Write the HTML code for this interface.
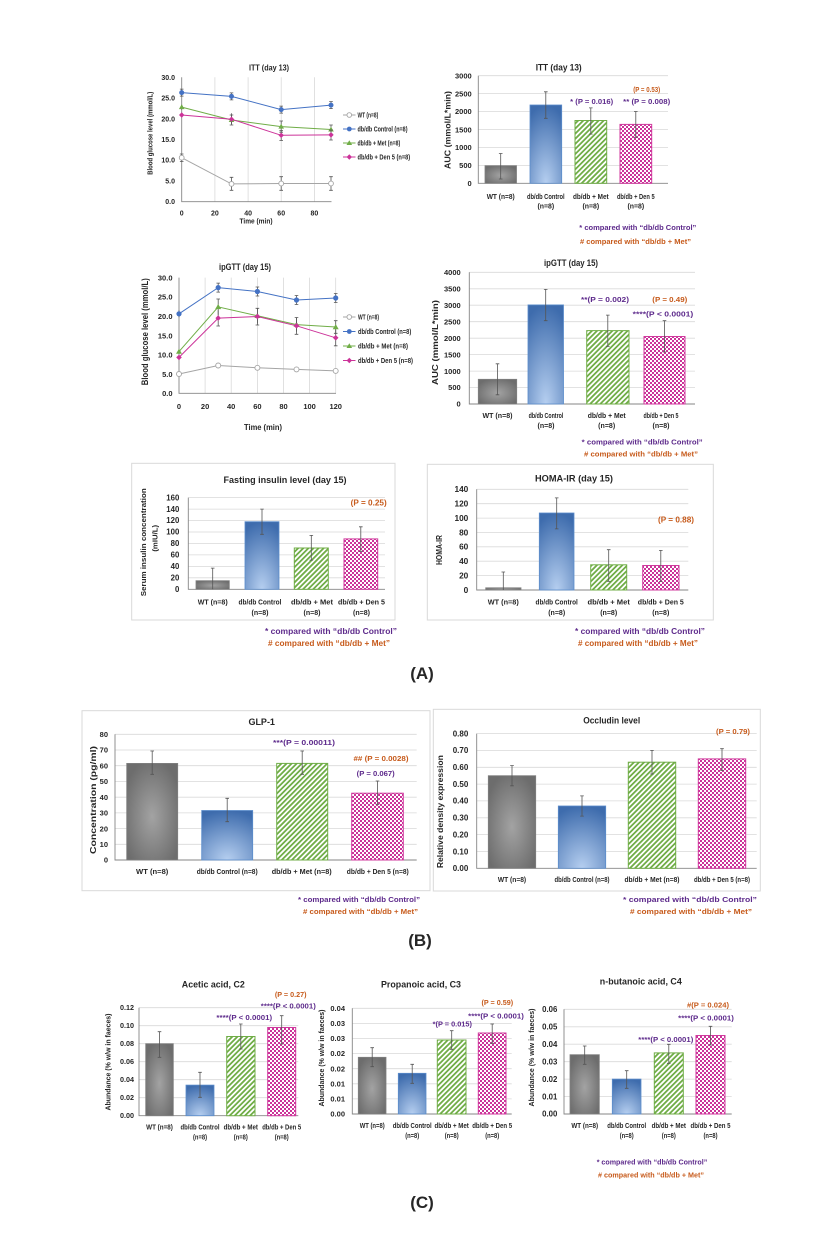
<!DOCTYPE html>
<html><head><meta charset="utf-8"><title>Figure</title>
<style>
html,body{margin:0;padding:0;background:#fff}
svg{display:block}
text{font-family:"Liberation Sans",Arial,sans-serif;font-weight:bold;fill:#262626}
.e{text-anchor:end}
.m{text-anchor:middle}
text.p{fill:#5e2b8c}
text.o{fill:#c75b1c}
.g{stroke:#d9d9d9;stroke-width:.8;fill:none}
.ax{stroke:#868686;stroke-width:.9;fill:none}
.eb{stroke:#555;stroke-width:.8;fill:none}
.bw{fill:url(#gg);stroke:#808080;stroke-width:.8}
.bc{fill:url(#gb);stroke:#5a8ccb;stroke-width:.8}
.bm{fill:url(#st);stroke:#70ad47;stroke-width:1}
.bd{fill:url(#ck);stroke:#d03a9e;stroke-width:1}
.box{fill:none;stroke:#d9d9d9;stroke-width:1}
</style></head><body>
<svg width="838" height="1238" viewBox="0 0 838 1238" xmlns="http://www.w3.org/2000/svg">
<defs>
<pattern id="st" patternUnits="userSpaceOnUse" width="3.6" height="3.6" patternTransform="rotate(45)"><rect width="3.6" height="3.6" fill="#fff"/><rect width="1.8" height="3.6" fill="#70ad47"/></pattern>
<pattern id="ck" patternUnits="userSpaceOnUse" width="4" height="4"><rect width="4" height="4" fill="#fff"/><rect width="2" height="2" fill="#cc3399"/><rect x="2" y="2" width="2" height="2" fill="#cc3399"/></pattern>
<radialGradient id="gg" cx="0.5" cy="0.55" r="0.6"><stop offset="0" stop-color="#a3a3a3"/><stop offset="1" stop-color="#6d6d6d"/></radialGradient>
<radialGradient id="gb" cx="0.5" cy="1" r="1"><stop offset="0" stop-color="#b6cff0"/><stop offset="1" stop-color="#3e6cad"/></radialGradient>
</defs>
<rect width="838" height="1238" fill="#fff"/>

<!-- ===== ITT line chart ===== -->
<path class="g" d="M214.9 77.3V201.7M248.1 77.3V201.7M281.2 77.3V201.7M314.4 77.3V201.7"/>
<path class="ax" d="M181.7 77.3V201.7H331.5"/>
<g class="e" font-size="7">
<text x="175" y="204.2">0.0</text><text x="175" y="183.5">5.0</text><text x="175" y="162.7">10.0</text><text x="175" y="142">15.0</text><text x="175" y="121.3">20.0</text><text x="175" y="100.6">25.0</text><text x="175" y="79.8">30.0</text>
</g>
<g class="m" font-size="7">
<text x="181.7" y="215.5">0</text><text x="214.9" y="215.5">20</text><text x="248.1" y="215.5">40</text><text x="281.2" y="215.5">60</text><text x="314.4" y="215.5">80</text>
<text x="256" y="223.5" textLength="33" lengthAdjust="spacingAndGlyphs">Time (min)</text>
<text x="269" y="70.5" font-size="8" textLength="40" lengthAdjust="spacingAndGlyphs">ITT (day 13)</text>
</g>
<text class="m" font-size="7" transform="translate(152.5,133.3) rotate(-90)" textLength="83" lengthAdjust="spacingAndGlyphs">Blood glucose level (mmol/L)</text>
<!-- WT -->
<polyline points="181.7,157.7 231.5,183.9 281.2,183.5 331,183.5" fill="none" stroke="#a5a5a5" stroke-width="1"/>
<path class="eb" d="M181.7 154V161.5M179.9 154H183.5M179.9 161.5H183.5M231.5 177.3V190.3M229.7 177.3H233.3M229.7 190.3H233.3M281.2 176.7V190.3M279.4 176.7H283M279.4 190.3H283M331 176.7V190.3M329.2 176.7H332.8M329.2 190.3H332.8"/>
<g fill="#fff" stroke="#a5a5a5" stroke-width=".9"><circle cx="181.7" cy="157.7" r="2.4"/><circle cx="231.5" cy="183.9" r="2.4"/><circle cx="281.2" cy="183.5" r="2.4"/><circle cx="331" cy="183.5" r="2.4"/></g>
<!-- Control -->
<polyline points="181.7,92.6 231.5,96.4 281.2,109.6 331,105.1" fill="none" stroke="#4472c4" stroke-width="1"/>
<path class="eb" d="M181.7 89.1V96.1M179.9 89.1H183.5M179.9 96.1H183.5M231.5 92.9V99.9M229.7 92.9H233.3M229.7 99.9H233.3M281.2 106.1V113.1M279.4 106.1H283M279.4 113.1H283M331 101.6V108.6M329.2 101.6H332.8M329.2 108.6H332.8"/>
<g fill="#4472c4"><circle cx="181.7" cy="92.6" r="2.5"/><circle cx="231.5" cy="96.4" r="2.5"/><circle cx="281.2" cy="109.6" r="2.5"/><circle cx="331" cy="105.1" r="2.5"/></g>
<!-- Met -->
<polyline points="181.7,107.1 231.5,120 281.2,126.6 331,129.5" fill="none" stroke="#70ad47" stroke-width="1"/>
<path class="eb" d="M181.7 104.6V109.6M231.5 115V125M229.7 115H233.3M229.7 125H233.3M281.2 121V132.2M279.4 121H283M279.4 132.2H283M331 125V134M329.2 125H332.8M329.2 134H332.8"/>
<g fill="#70ad47"><path d="M181.7 104.3L184.5 109.1L178.9 109.1Z"/><path d="M231.5 117.2L234.3 122L228.7 122Z"/><path d="M281.2 123.8L284 128.6L278.4 128.6Z"/><path d="M331 126.7L333.8 131.5L328.2 131.5Z"/></g>
<!-- Den -->
<polyline points="181.7,115 231.5,119.2 281.2,135.3 331,134.9" fill="none" stroke="#cc3399" stroke-width="1"/>
<path class="eb" d="M181.7 113V117M231.5 113.3V124M281.2 130.5V140.5M279.4 130.5H283M279.4 140.5H283M331 130V140M329.2 130H332.8M329.2 140H332.8"/>
<g fill="#cc3399"><path d="M181.7 112.3L184.4 115L181.7 117.7L179 115Z"/><path d="M231.5 116.5L234.2 119.2L231.5 121.9L228.8 119.2Z"/><path d="M281.2 132.6L283.9 135.3L281.2 138L278.5 135.3Z"/><path d="M331 132.2L333.7 134.9L331 137.6L328.3 134.9Z"/></g>
<!-- legend -->
<path d="M343 115H355.5" stroke="#a5a5a5"/><circle cx="349.3" cy="115" r="2.3" fill="#fff" stroke="#a5a5a5" stroke-width=".9"/>
<path d="M343 129H355.5" stroke="#4472c4"/><circle cx="349.3" cy="129" r="2.4" fill="#4472c4"/>
<path d="M343 143H355.5" stroke="#70ad47"/><path d="M349.3 140.2L352.1 145L346.5 145Z" fill="#70ad47"/>
<path d="M343 157H355.5" stroke="#cc3399"/><path d="M349.3 154.3L352 157L349.3 159.7L346.6 157Z" fill="#cc3399"/>
<g font-size="7">
<text x="357.5" y="117.5" textLength="20.7" lengthAdjust="spacingAndGlyphs">WT (n=8)</text>
<text x="357.5" y="131.5" textLength="50" lengthAdjust="spacingAndGlyphs">db/db Control (n=8)</text>
<text x="357.5" y="145.5" textLength="42.7" lengthAdjust="spacingAndGlyphs">db/db + Met (n=8)</text>
<text x="357.5" y="159.5" textLength="52.7" lengthAdjust="spacingAndGlyphs">db/db + Den 5 (n=8)</text>
</g>

<!-- ===== ITT bar ===== -->
<path class="g" d="M478.3 165.4H668M478.3 147.4H668M478.3 129.6H668M478.3 111.5H668M478.3 93.6H668M478.3 75.7H668"/>
<path class="ax" d="M478.3 75.7V183.3H668"/>
<g class="e" font-size="7.5">
<text x="471.7" y="186">0</text><text x="471.7" y="168.1">500</text><text x="471.7" y="150.1">1000</text><text x="471.7" y="132.3">1500</text><text x="471.7" y="114.2">2000</text><text x="471.7" y="96.3">2500</text><text x="471.7" y="78.4">3000</text>
</g>
<rect class="bw" x="485" y="165.7" width="31.5" height="17.6"/>
<rect class="bc" x="530" y="105" width="31.7" height="78.3"/>
<rect class="bm" x="575" y="120.5" width="31.7" height="62.8"/>
<rect class="bd" x="620" y="124.4" width="31.7" height="58.9"/>
<path class="eb" d="M500.7 179V153.5M498.9 179H502.5M498.9 153.5H502.5M545.8 118.3V91.8M544 118.3H547.6M544 91.8H547.6M590.8 134.1V107.9M589 134.1H592.6M589 107.9H592.6M635.8 137.3V111.5M634 137.3H637.6M634 111.5H637.6"/>
<text class="m" x="558.7" y="70.5" font-size="9" textLength="46" lengthAdjust="spacingAndGlyphs">ITT (day 13)</text>
<text class="m" font-size="8.5" transform="translate(450.3,130) rotate(-90)" textLength="78" lengthAdjust="spacingAndGlyphs">AUC (mmol/L*min)</text>
<text class="m o" x="646.7" y="92" font-size="7.5" textLength="27" lengthAdjust="spacingAndGlyphs">(P = 0.53)</text>
<text class="m p" x="591.7" y="104" font-size="7.5" textLength="43" lengthAdjust="spacingAndGlyphs">* (P = 0.016)</text>
<text class="m p" x="646.7" y="104" font-size="7.5" textLength="47" lengthAdjust="spacingAndGlyphs">** (P = 0.008)</text>
<g class="m" font-size="7">
<text x="500.7" y="199" textLength="28" lengthAdjust="spacingAndGlyphs">WT (n=8)</text>
<text x="545.8" y="199" textLength="37.7" lengthAdjust="spacingAndGlyphs">db/db Control</text>
<text x="590.8" y="199" textLength="35.7" lengthAdjust="spacingAndGlyphs">db/db + Met</text>
<text x="635.8" y="199" textLength="37.7" lengthAdjust="spacingAndGlyphs">db/db + Den 5</text>
<text x="545.8" y="208.5" textLength="16.7" lengthAdjust="spacingAndGlyphs">(n=8)</text>
<text x="590.8" y="208.5" textLength="16.7" lengthAdjust="spacingAndGlyphs">(n=8)</text>
<text x="635.8" y="208.5" textLength="16.7" lengthAdjust="spacingAndGlyphs">(n=8)</text>
</g>
<text class="p" x="579.3" y="230" font-size="7.5" textLength="117" lengthAdjust="spacingAndGlyphs">* compared with “db/db Control”</text>
<text class="o" x="580" y="244" font-size="7.5" textLength="111" lengthAdjust="spacingAndGlyphs"># compared with “db/db + Met”</text>

<!-- ===== ipGTT line ===== -->
<path class="g" d="M205.1 277.6V393.3M231.2 277.6V393.3M257.4 277.6V393.3M283.5 277.6V393.3M309.6 277.6V393.3M335.7 277.6V393.3"/>
<path class="ax" d="M179 277.6V393.3H336"/>
<g class="e" font-size="7.5">
<text x="172.5" y="396.1">0.0</text><text x="172.5" y="376.8">5.0</text><text x="172.5" y="357.5">10.0</text><text x="172.5" y="338.3">15.0</text><text x="172.5" y="319">20.0</text><text x="172.5" y="299.7">25.0</text><text x="172.5" y="280.4">30.0</text>
</g>
<g class="m" font-size="7.5">
<text x="179" y="409">0</text><text x="205.1" y="409">20</text><text x="231.2" y="409">40</text><text x="257.4" y="409">60</text><text x="283.5" y="409">80</text><text x="309.6" y="409">100</text><text x="335.7" y="409">120</text>
<text x="263" y="430" font-size="8.5" textLength="38" lengthAdjust="spacingAndGlyphs">Time (min)</text>
<text x="245" y="270" font-size="9" textLength="52" lengthAdjust="spacingAndGlyphs">ipGTT (day 15)</text>
</g>
<text class="m" font-size="9" transform="translate(148.2,331.7) rotate(-90)" textLength="107" lengthAdjust="spacingAndGlyphs">Blood glucose level (mmol/L)</text>
<!-- WT -->
<polyline points="179,374 218.2,365.5 257.4,367.8 296.5,369.4 335.7,370.9" fill="none" stroke="#a5a5a5" stroke-width="1"/>
<g fill="#fff" stroke="#a5a5a5" stroke-width=".9"><circle cx="179" cy="374" r="2.5"/><circle cx="218.2" cy="365.5" r="2.5"/><circle cx="257.4" cy="367.8" r="2.5"/><circle cx="296.5" cy="369.4" r="2.5"/><circle cx="335.7" cy="370.9" r="2.5"/></g>
<!-- Control -->
<polyline points="179,313.8 218.2,287.6 257.4,291.5 296.5,300 335.7,298" fill="none" stroke="#4472c4" stroke-width="1"/>
<path class="eb" d="M179 310.3V317.3M218.2 283.1V292.1M216.4 283.1H220M216.4 292.1H220M257.4 287V296M255.6 287H259.2M255.6 296H259.2M296.5 295.5V304.5M294.7 295.5H298.3M294.7 304.5H298.3M335.7 293.5V302.5M333.9 293.5H337.5M333.9 302.5H337.5"/>
<g fill="#4472c4"><circle cx="179" cy="313.8" r="2.6"/><circle cx="218.2" cy="287.6" r="2.6"/><circle cx="257.4" cy="291.5" r="2.6"/><circle cx="296.5" cy="300" r="2.6"/><circle cx="335.7" cy="298" r="2.6"/></g>
<!-- Met -->
<polyline points="179,351.6 218.2,306.9 257.4,315.8 296.5,324.6 335.7,327" fill="none" stroke="#70ad47" stroke-width="1"/>
<path class="eb" d="M179 349.6V353.6M218.2 299V314.8M216.4 299H220M257.4 308.3V323.3M255.6 308.3H259.2M296.5 317.6V331.6M294.7 317.6H298.3M335.7 320.7V333.3M333.9 320.7H337.5M333.9 333.3H337.5"/>
<g fill="#70ad47"><path d="M179 348.7L182 353.8L176 353.8Z"/><path d="M218.2 304L221.2 309.1L215.2 309.1Z"/><path d="M257.4 312.9L260.4 318L254.4 318Z"/><path d="M296.5 321.7L299.5 326.8L293.5 326.8Z"/><path d="M335.7 324.1L338.7 329.2L332.7 329.2Z"/></g>
<!-- Den -->
<polyline points="179,357.4 218.2,318.1 257.4,316.5 296.5,325.8 335.7,337.8" fill="none" stroke="#cc3399" stroke-width="1"/>
<path class="eb" d="M179 355.4V359.4M218.2 310.2V326M216.4 326H220M257.4 308V325M255.6 325H259.2M296.5 317.3V334.3M294.7 334.3H298.3M335.7 329.8V345.8M333.9 345.8H337.5"/>
<g fill="#cc3399"><path d="M179 354.6L181.8 357.4L179 360.2L176.2 357.4Z"/><path d="M218.2 315.3L221 318.1L218.2 320.9L215.4 318.1Z"/><path d="M257.4 313.7L260.2 316.5L257.4 319.3L254.6 316.5Z"/><path d="M296.5 323L299.3 325.8L296.5 328.6L293.7 325.8Z"/><path d="M335.7 335L338.5 337.8L335.7 340.6L332.9 337.8Z"/></g>
<!-- legend -->
<path d="M343 317H355.5" stroke="#a5a5a5"/><circle cx="349.3" cy="317" r="2.3" fill="#fff" stroke="#a5a5a5" stroke-width=".9"/>
<path d="M343 331.5H355.5" stroke="#4472c4"/><circle cx="349.3" cy="331.5" r="2.4" fill="#4472c4"/>
<path d="M343 346H355.5" stroke="#70ad47"/><path d="M349.3 343.2L352.1 348L346.5 348Z" fill="#70ad47"/>
<path d="M343 360.5H355.5" stroke="#cc3399"/><path d="M349.3 357.8L352 360.5L349.3 363.2L346.6 360.5Z" fill="#cc3399"/>
<g font-size="7.5">
<text x="358" y="319.7" textLength="21" lengthAdjust="spacingAndGlyphs">WT (n=8)</text>
<text x="358" y="334.2" textLength="53.3" lengthAdjust="spacingAndGlyphs">db/db Control (n=8)</text>
<text x="358" y="348.7" textLength="50" lengthAdjust="spacingAndGlyphs">db/db + Met (n=8)</text>
<text x="358" y="363.2" textLength="55" lengthAdjust="spacingAndGlyphs">db/db + Den 5 (n=8)</text>
</g>

<!-- ===== ipGTT bar ===== -->
<path class="g" d="M469.3 387.5H695M469.3 371.1H695M469.3 354.6H695M469.3 338.2H695M469.3 321.7H695M469.3 305.2H695M469.3 288.8H695M469.3 272.3H695"/>
<path class="ax" d="M469.3 272.3V404H695"/>
<g class="e" font-size="7.5">
<text x="460.7" y="406.7">0</text><text x="460.7" y="390.2">500</text><text x="460.7" y="373.8">1000</text><text x="460.7" y="357.3">1500</text><text x="460.7" y="340.9">2000</text><text x="460.7" y="324.4">2500</text><text x="460.7" y="307.9">3000</text><text x="460.7" y="291.5">3500</text><text x="460.7" y="275">4000</text>
</g>
<rect class="bw" x="478.3" y="379.3" width="38.4" height="24.7"/>
<rect class="bc" x="528" y="304.9" width="35.5" height="99.1"/>
<rect class="bm" x="586.7" y="330.6" width="42.3" height="73.4"/>
<rect class="bd" x="644" y="336.5" width="41" height="67.5"/>
<path class="eb" d="M497.5 394.8V363.8M495.7 394.8H499.3M495.7 363.8H499.3M545.7 320.7V289.4M543.9 320.7H547.5M543.9 289.4H547.5M607.8 346.4V315.1M606 346.4H609.6M606 315.1H609.6M664.5 352V320.7M662.7 352H666.3M662.7 320.7H666.3"/>
<text class="m" x="571" y="266" font-size="9" textLength="54" lengthAdjust="spacingAndGlyphs">ipGTT (day 15)</text>
<text class="m" font-size="8.5" fill="#333" transform="translate(438,342.5) rotate(-90)" textLength="85" lengthAdjust="spacingAndGlyphs">AUC (mmol/L*min)</text>
<text class="m p" x="605" y="302" font-size="7.5" textLength="48" lengthAdjust="spacingAndGlyphs">**(P = 0.002)</text>
<text class="m o" x="669.8" y="302" font-size="7.5" textLength="35" lengthAdjust="spacingAndGlyphs">(P = 0.49)</text>
<text class="m p" x="663" y="316.5" font-size="7.5" textLength="60.6" lengthAdjust="spacingAndGlyphs">****(P &lt; 0.0001)</text>
<g class="m" font-size="7">
<text x="497.5" y="418" textLength="30" lengthAdjust="spacingAndGlyphs">WT (n=8)</text>
<text x="546" y="418" textLength="34.7" lengthAdjust="spacingAndGlyphs">db/db Control</text>
<text x="606.7" y="418" textLength="38" lengthAdjust="spacingAndGlyphs">db/db + Met</text>
<text x="661" y="418" textLength="35" lengthAdjust="spacingAndGlyphs">db/db + Den 5</text>
<text x="546" y="428" textLength="17" lengthAdjust="spacingAndGlyphs">(n=8)</text>
<text x="606.7" y="428" textLength="17" lengthAdjust="spacingAndGlyphs">(n=8)</text>
<text x="661" y="428" textLength="17" lengthAdjust="spacingAndGlyphs">(n=8)</text>
</g>
<text class="p" x="581.7" y="444.7" font-size="7.5" textLength="121" lengthAdjust="spacingAndGlyphs">* compared with “db/db Control”</text>
<text class="o" x="584" y="456.3" font-size="7.5" textLength="114" lengthAdjust="spacingAndGlyphs"># compared with “db/db + Met”</text>

<!-- ===== Fasting insulin ===== -->
<rect class="box" x="131.7" y="463.3" width="263.3" height="156.7"/>
<path class="g" d="M188.3 577.8H385M188.3 566.4H385M188.3 554.9H385M188.3 543.5H385M188.3 532H385M188.3 520.5H385M188.3 509.1H385M188.3 497.6H385"/>
<path class="ax" d="M188.3 497.6V589.3H385"/>
<g class="e" font-size="7.8">
<text x="179.3" y="592">0</text><text x="179.3" y="580.5">20</text><text x="179.3" y="569.1">40</text><text x="179.3" y="557.6">60</text><text x="179.3" y="546.2">80</text><text x="179.3" y="534.7">100</text><text x="179.3" y="523.2">120</text><text x="179.3" y="511.8">140</text><text x="179.3" y="500.3">160</text>
</g>
<rect class="bw" x="196" y="580.7" width="33.3" height="8.6"/>
<rect class="bc" x="245" y="521.7" width="34" height="67.6"/>
<rect class="bm" x="294.3" y="548" width="34" height="41.3"/>
<rect class="bd" x="344" y="538.9" width="33.7" height="50.4"/>
<path class="eb" d="M212.7 589.3V568.1M210.9 568.1H214.5M262 534.3V509.1M260.2 534.3H263.8M260.2 509.1H263.8M311.3 560.1V535.4M309.5 560.1H313.1M309.5 535.4H313.1M360.8 551.5V526.8M359 551.5H362.6M359 526.8H362.6"/>
<text class="m" x="285" y="483" font-size="9.5" textLength="123" lengthAdjust="spacingAndGlyphs">Fasting insulin level (day 15)</text>
<text class="m" font-size="7.5" transform="translate(146,542.3) rotate(-90)" textLength="108" lengthAdjust="spacingAndGlyphs">Serum insulin concentration</text>
<text class="m" font-size="7.5" transform="translate(157.6,538.3) rotate(-90)" textLength="26.7" lengthAdjust="spacingAndGlyphs">(mIU/L)</text>
<text class="m o" x="368.7" y="505.5" font-size="8" textLength="36" lengthAdjust="spacingAndGlyphs">(P = 0.25)</text>
<g class="m" font-size="7.3">
<text x="212.7" y="604.5" textLength="30" lengthAdjust="spacingAndGlyphs">WT (n=8)</text>
<text x="260" y="604.5" textLength="43" lengthAdjust="spacingAndGlyphs">db/db Control</text>
<text x="312" y="604.5" textLength="42" lengthAdjust="spacingAndGlyphs">db/db + Met</text>
<text x="361.5" y="604.5" textLength="47" lengthAdjust="spacingAndGlyphs">db/db + Den 5</text>
<text x="260" y="614.8" textLength="17" lengthAdjust="spacingAndGlyphs">(n=8)</text>
<text x="312" y="614.8" textLength="17" lengthAdjust="spacingAndGlyphs">(n=8)</text>
<text x="361.5" y="614.8" textLength="17" lengthAdjust="spacingAndGlyphs">(n=8)</text>
</g>
<text class="p" x="265" y="634" font-size="7.8" textLength="132" lengthAdjust="spacingAndGlyphs">* compared with “db/db Control”</text>
<text class="o" x="268" y="646" font-size="7.8" textLength="122" lengthAdjust="spacingAndGlyphs"># compared with “db/db + Met”</text>

<!-- ===== HOMA-IR ===== -->
<rect class="box" x="427.3" y="464.3" width="286" height="155.7"/>
<path class="g" d="M476.7 575.6H688.3M476.7 561.2H688.3M476.7 546.8H688.3M476.7 532.5H688.3M476.7 518.1H688.3M476.7 503.7H688.3M476.7 489.3H688.3"/>
<path class="ax" d="M476.7 489.3V590H688.3"/>
<g class="e" font-size="8.3">
<text x="468.3" y="592.9">0</text><text x="468.3" y="578.5">20</text><text x="468.3" y="564.1">40</text><text x="468.3" y="549.7">60</text><text x="468.3" y="535.4">80</text><text x="468.3" y="521">100</text><text x="468.3" y="506.6">120</text><text x="468.3" y="492.2">140</text>
</g>
<rect class="bw" x="485.7" y="587.8" width="35.3" height="2.2"/>
<rect class="bc" x="539.3" y="513" width="34.7" height="77"/>
<rect class="bm" x="590.7" y="564.8" width="36" height="25.2"/>
<rect class="bd" x="642.7" y="565.5" width="36.3" height="24.5"/>
<path class="eb" d="M503.3 590V572M501.5 572H505.1M556.7 528.9V497.9M554.9 528.9H558.5M554.9 497.9H558.5M608.7 581.4V549.7M606.9 581.4H610.5M606.9 549.7H610.5M660.8 581.4V550.4M659 581.4H662.6M659 550.4H662.6"/>
<text class="m" x="574" y="481.5" font-size="9.5" textLength="78" lengthAdjust="spacingAndGlyphs">HOMA-IR (day 15)</text>
<text class="m" font-size="8" transform="translate(441.8,550) rotate(-90)" textLength="30" lengthAdjust="spacingAndGlyphs">HOMA-IR</text>
<text class="m o" x="676" y="522.5" font-size="8" textLength="36" lengthAdjust="spacingAndGlyphs">(P = 0.88)</text>
<g class="m" font-size="7.3">
<text x="503.3" y="604.5" textLength="31" lengthAdjust="spacingAndGlyphs">WT (n=8)</text>
<text x="556.7" y="604.5" textLength="42.3" lengthAdjust="spacingAndGlyphs">db/db Control</text>
<text x="608.7" y="604.5" textLength="42.3" lengthAdjust="spacingAndGlyphs">db/db + Met</text>
<text x="660.8" y="604.5" textLength="46" lengthAdjust="spacingAndGlyphs">db/db + Den 5</text>
<text x="556.7" y="614.8" textLength="17" lengthAdjust="spacingAndGlyphs">(n=8)</text>
<text x="608.7" y="614.8" textLength="17" lengthAdjust="spacingAndGlyphs">(n=8)</text>
<text x="660.8" y="614.8" textLength="17" lengthAdjust="spacingAndGlyphs">(n=8)</text>
</g>
<text class="p" x="575" y="634" font-size="7.8" textLength="130" lengthAdjust="spacingAndGlyphs">* compared with “db/db Control”</text>
<text class="o" x="578" y="646" font-size="7.8" textLength="120" lengthAdjust="spacingAndGlyphs"># compared with “db/db + Met”</text>

<text class="m" x="422" y="679" font-size="17" fill="#000">(A)</text>

<!-- ===== GLP-1 ===== -->
<rect class="box" x="82" y="710.7" width="348" height="180"/>
<path class="g" d="M115 844.3H416.7M115 828.6H416.7M115 812.9H416.7M115 797.2H416.7M115 781.5H416.7M115 765.7H416.7M115 750H416.7M115 734.3H416.7"/>
<path class="ax" d="M115 734.3V860H416.7"/>
<g class="e" font-size="7.5">
<text x="108" y="862.7">0</text><text x="108" y="847">10</text><text x="108" y="831.3">20</text><text x="108" y="815.6">30</text><text x="108" y="799.9">40</text><text x="108" y="784.2">50</text><text x="108" y="768.4">60</text><text x="108" y="752.7">70</text><text x="108" y="737">80</text>
</g>
<rect class="bw" x="126.7" y="763.4" width="51" height="96.6"/>
<rect class="bc" x="201.7" y="810.5" width="51" height="49.5"/>
<rect class="bm" x="276.7" y="763.4" width="51" height="96.6"/>
<rect class="bd" x="351.7" y="793.2" width="51.6" height="66.8"/>
<path class="eb" d="M152.2 751V774.3M150.4 751H154M150.4 774.3H154M227.2 798.3V821.7M225.4 798.3H229M225.4 821.7H229M302.2 751V774.3M300.4 751H304M300.4 774.3H304M377.5 781V804.3M375.7 781H379.3M375.7 804.3H379.3"/>
<text class="m" x="261.7" y="725" font-size="9">GLP-1</text>
<text class="m" font-size="8.5" transform="translate(96,800) rotate(-90)" textLength="108" lengthAdjust="spacingAndGlyphs">Concentration (pg/ml)</text>
<text class="m p" x="304" y="745" font-size="7.5" textLength="62" lengthAdjust="spacingAndGlyphs">***(P = 0.00011)</text>
<text class="m o" x="381" y="761" font-size="7.5" textLength="55" lengthAdjust="spacingAndGlyphs">## (P = 0.0028)</text>
<text class="m p" x="375.7" y="776" font-size="7.5" textLength="38" lengthAdjust="spacingAndGlyphs">(P = 0.067)</text>
<g class="m" font-size="7.3">
<text x="152.2" y="874" textLength="32.3" lengthAdjust="spacingAndGlyphs">WT (n=8)</text>
<text x="227.2" y="874" textLength="61" lengthAdjust="spacingAndGlyphs">db/db Control (n=8)</text>
<text x="301.7" y="874" textLength="60" lengthAdjust="spacingAndGlyphs">db/db + Met (n=8)</text>
<text x="377.8" y="874" textLength="62" lengthAdjust="spacingAndGlyphs">db/db + Den 5 (n=8)</text>
</g>
<text class="p" x="298" y="902" font-size="7.5" textLength="122" lengthAdjust="spacingAndGlyphs">* compared with “db/db Control”</text>
<text class="o" x="303" y="914" font-size="7.5" textLength="115" lengthAdjust="spacingAndGlyphs"># compared with “db/db + Met”</text>

<!-- ===== Occludin ===== -->
<rect class="box" x="433.3" y="709.3" width="327" height="181.7"/>
<path class="g" d="M476.7 851.5H756.7M476.7 834.6H756.7M476.7 817.8H756.7M476.7 800.9H756.7M476.7 784.1H756.7M476.7 767.3H756.7M476.7 750.4H756.7M476.7 733.6H756.7"/>
<path class="ax" d="M476.7 733.6V868.3H756.7"/>
<g class="e" font-size="8">
<text x="468.3" y="871.1">0.00</text><text x="468.3" y="854.3">0.10</text><text x="468.3" y="837.4">0.20</text><text x="468.3" y="820.6">0.30</text><text x="468.3" y="803.7">0.40</text><text x="468.3" y="786.9">0.50</text><text x="468.3" y="770.1">0.60</text><text x="468.3" y="753.2">0.70</text><text x="468.3" y="736.4">0.80</text>
</g>
<rect class="bw" x="488.3" y="775.7" width="47.4" height="92.6"/>
<rect class="bc" x="558.3" y="806" width="47.4" height="62.3"/>
<rect class="bm" x="628.3" y="762.2" width="47.4" height="106.1"/>
<rect class="bd" x="698.3" y="758.9" width="47.4" height="109.4"/>
<path class="eb" d="M512 785.8V765.6M510.2 785.8H513.8M510.2 765.6H513.8M582 816.1V795.9M580.2 816.1H583.8M580.2 795.9H583.8M652 774V750.4M650.2 774H653.8M650.2 750.4H653.8M722 770.6V748.7M720.2 770.6H723.8M720.2 748.7H723.8"/>
<text class="m" x="611.7" y="723.3" font-size="9" textLength="57" lengthAdjust="spacingAndGlyphs">Occludin level</text>
<text class="m" font-size="8.5" transform="translate(443,811.7) rotate(-90)" textLength="113" lengthAdjust="spacingAndGlyphs">Relative density expression</text>
<text class="m o" x="733" y="734" font-size="7.5" textLength="34" lengthAdjust="spacingAndGlyphs">(P = 0.79)</text>
<g class="m" font-size="7.3">
<text x="512" y="882" textLength="28.3" lengthAdjust="spacingAndGlyphs">WT (n=8)</text>
<text x="582" y="882" textLength="55" lengthAdjust="spacingAndGlyphs">db/db Control (n=8)</text>
<text x="652" y="882" textLength="55" lengthAdjust="spacingAndGlyphs">db/db + Met (n=8)</text>
<text x="722" y="882" textLength="56" lengthAdjust="spacingAndGlyphs">db/db + Den 5 (n=8)</text>
</g>
<text class="p" x="623" y="902" font-size="7.5" textLength="134" lengthAdjust="spacingAndGlyphs">* compared with “db/db Control”</text>
<text class="o" x="630" y="914" font-size="7.5" textLength="122" lengthAdjust="spacingAndGlyphs"># compared with “db/db + Met”</text>

<text class="m" x="420" y="946" font-size="17" fill="#000">(B)</text>

<!-- ===== Acetic ===== -->
<path class="g" d="M139 1097.7H298.3M139 1079.7H298.3M139 1061.7H298.3M139 1043.7H298.3M139 1025.7H298.3M139 1007.7H298.3"/>
<path class="ax" d="M139 1007.7V1115.7H298.3"/>
<g class="e" font-size="7.2">
<text x="134" y="1118.2">0.00</text><text x="134" y="1100.2">0.02</text><text x="134" y="1082.2">0.04</text><text x="134" y="1064.2">0.06</text><text x="134" y="1046.2">0.08</text><text x="134" y="1028.2">0.10</text><text x="134" y="1010.2">0.12</text>
</g>
<rect class="bw" x="145.7" y="1043.7" width="27.6" height="72"/>
<rect class="bc" x="186" y="1085.1" width="28" height="30.6"/>
<rect class="bm" x="226.7" y="1036.5" width="28.3" height="79.2"/>
<rect class="bd" x="267.7" y="1027.5" width="28" height="88.2"/>
<path class="eb" d="M159.5 1031.7V1057.3M157.7 1031.7H161.3M157.7 1057.3H161.3M200 1072.3V1097.3M198.2 1072.3H201.8M198.2 1097.3H201.8M240.8 1024V1049M239 1024H242.6M239 1049H242.6M281.7 1015.7V1044M279.9 1015.7H283.5M279.9 1044H283.5"/>
<text class="m" x="213.3" y="987.5" font-size="9.5" textLength="63" lengthAdjust="spacingAndGlyphs">Acetic acid, C2</text>
<text class="m" font-size="7" transform="translate(110.5,1062) rotate(-90)" textLength="97" lengthAdjust="spacingAndGlyphs">Abundance (% w/w in faeces)</text>
<text class="m o" x="290.7" y="997" font-size="7.5" textLength="31.7" lengthAdjust="spacingAndGlyphs">(P = 0.27)</text>
<text class="m p" x="288.3" y="1008.5" font-size="7.5" textLength="55" lengthAdjust="spacingAndGlyphs">****(P &lt; 0.0001)</text>
<text class="m p" x="244.3" y="1020" font-size="7.5" textLength="55.7" lengthAdjust="spacingAndGlyphs">****(P &lt; 0.0001)</text>
<g class="m" font-size="7">
<text x="159.5" y="1129.5" textLength="26.7" lengthAdjust="spacingAndGlyphs">WT (n=8)</text>
<text x="200" y="1129.5" textLength="39" lengthAdjust="spacingAndGlyphs">db/db Control</text>
<text x="240.8" y="1129.5" textLength="34.3" lengthAdjust="spacingAndGlyphs">db/db + Met</text>
<text x="281.7" y="1129.5" textLength="39" lengthAdjust="spacingAndGlyphs">db/db + Den 5</text>
<text x="200" y="1139.5" textLength="14" lengthAdjust="spacingAndGlyphs">(n=8)</text>
<text x="240.8" y="1139.5" textLength="14" lengthAdjust="spacingAndGlyphs">(n=8)</text>
<text x="281.7" y="1139.5" textLength="14" lengthAdjust="spacingAndGlyphs">(n=8)</text>
</g>

<!-- ===== Propanoic ===== -->
<path class="g" d="M352.3 1098.9H511.7M352.3 1083.8H511.7M352.3 1068.7H511.7M352.3 1053.6H511.7M352.3 1038.5H511.7M352.3 1023.4H511.7M352.3 1008.3H511.7"/>
<path class="ax" d="M352.3 1008.3V1114H511.7"/>
<g class="e" font-size="7.5">
<text x="345" y="1116.6">0.00</text><text x="345" y="1101.5">0.01</text><text x="345" y="1086.4">0.01</text><text x="345" y="1071.3">0.02</text><text x="345" y="1056.2">0.02</text><text x="345" y="1041.1">0.03</text><text x="345" y="1026">0.03</text><text x="345" y="1010.9">0.04</text>
</g>
<rect class="bw" x="358.3" y="1057.3" width="27.7" height="56.7"/>
<rect class="bc" x="398.3" y="1073.3" width="27.7" height="40.7"/>
<rect class="bm" x="437.3" y="1040" width="28.7" height="74"/>
<rect class="bd" x="478.3" y="1033" width="27.7" height="81"/>
<path class="eb" d="M372.2 1047.7V1066.7M370.4 1047.7H374M370.4 1066.7H374M412.2 1064.3V1083.3M410.4 1064.3H414M410.4 1083.3H414M451.7 1030.7V1049.3M449.9 1030.7H453.5M449.9 1049.3H453.5M492.2 1024V1043.3M490.4 1024H494M490.4 1043.3H494"/>
<text class="m" x="421" y="987.5" font-size="9.5" textLength="80" lengthAdjust="spacingAndGlyphs">Propanoic acid, C3</text>
<text class="m" font-size="7" transform="translate(324.2,1058) rotate(-90)" textLength="97" lengthAdjust="spacingAndGlyphs">Abundance (% w/w in faeces)</text>
<text class="m o" x="497.3" y="1005" font-size="7.5" textLength="31.7" lengthAdjust="spacingAndGlyphs">(P = 0.59)</text>
<text class="m p" x="496" y="1018.5" font-size="7.5" textLength="55.7" lengthAdjust="spacingAndGlyphs">****(P &lt; 0.0001)</text>
<text class="m p" x="452.3" y="1026.7" font-size="7.5" textLength="39.3" lengthAdjust="spacingAndGlyphs">*(P = 0.015)</text>
<g class="m" font-size="7">
<text x="372.2" y="1128" textLength="25" lengthAdjust="spacingAndGlyphs">WT (n=8)</text>
<text x="412.2" y="1128" textLength="39" lengthAdjust="spacingAndGlyphs">db/db Control</text>
<text x="451.7" y="1128" textLength="34.3" lengthAdjust="spacingAndGlyphs">db/db + Met</text>
<text x="492.2" y="1128" textLength="40" lengthAdjust="spacingAndGlyphs">db/db + Den 5</text>
<text x="412.2" y="1138" textLength="14" lengthAdjust="spacingAndGlyphs">(n=8)</text>
<text x="451.7" y="1138" textLength="14" lengthAdjust="spacingAndGlyphs">(n=8)</text>
<text x="492.2" y="1138" textLength="14" lengthAdjust="spacingAndGlyphs">(n=8)</text>
</g>

<!-- ===== Butanoic ===== -->
<path class="g" d="M564 1096.6H731.7M564 1079.1H731.7M564 1061.7H731.7M564 1044.2H731.7M564 1026.8H731.7M564 1009.3H731.7"/>
<path class="ax" d="M564 1009.3V1114H731.7"/>
<g class="e" font-size="7.8">
<text x="557.3" y="1116.7">0.00</text><text x="557.3" y="1099.3">0.01</text><text x="557.3" y="1081.8">0.02</text><text x="557.3" y="1064.4">0.03</text><text x="557.3" y="1046.9">0.04</text><text x="557.3" y="1029.5">0.05</text><text x="557.3" y="1012">0.06</text>
</g>
<rect class="bw" x="570" y="1054.7" width="29.3" height="59.3"/>
<rect class="bc" x="612.3" y="1079.1" width="28.7" height="34.9"/>
<rect class="bm" x="654.3" y="1052.9" width="29" height="61.1"/>
<rect class="bd" x="696" y="1035.5" width="29" height="78.5"/>
<path class="eb" d="M584.7 1046V1064.3M582.9 1046H586.5M582.9 1064.3H586.5M626.7 1070.7V1088.3M624.9 1070.7H628.5M624.9 1088.3H628.5M668.8 1044.3V1063.3M667 1044.3H670.6M667 1063.3H670.6M710.5 1026.3V1045M708.7 1026.3H712.3M708.7 1045H712.3"/>
<text class="m" x="640.8" y="984.5" font-size="9.5" textLength="82" lengthAdjust="spacingAndGlyphs">n-butanoic acid, C4</text>
<text class="m" font-size="7" transform="translate(534.2,1057.5) rotate(-90)" textLength="98" lengthAdjust="spacingAndGlyphs">Abundance (% w/w in faeces)</text>
<text class="m o" x="708" y="1007.3" font-size="7.5" textLength="42" lengthAdjust="spacingAndGlyphs">#(P = 0.024)</text>
<text class="m p" x="706" y="1020.3" font-size="7.5" textLength="55.7" lengthAdjust="spacingAndGlyphs">****(P &lt; 0.0001)</text>
<text class="m p" x="665.8" y="1042" font-size="7.5" textLength="55" lengthAdjust="spacingAndGlyphs">****(P &lt; 0.0001)</text>
<g class="m" font-size="7">
<text x="584.7" y="1128" textLength="26.7" lengthAdjust="spacingAndGlyphs">WT (n=8)</text>
<text x="626.7" y="1128" textLength="39" lengthAdjust="spacingAndGlyphs">db/db Control</text>
<text x="668.8" y="1128" textLength="34.3" lengthAdjust="spacingAndGlyphs">db/db + Met</text>
<text x="710.5" y="1128" textLength="40" lengthAdjust="spacingAndGlyphs">db/db + Den 5</text>
<text x="626.7" y="1138" textLength="14" lengthAdjust="spacingAndGlyphs">(n=8)</text>
<text x="668.8" y="1138" textLength="14" lengthAdjust="spacingAndGlyphs">(n=8)</text>
<text x="710.5" y="1138" textLength="14" lengthAdjust="spacingAndGlyphs">(n=8)</text>
</g>
<text class="p" x="596.7" y="1164.7" font-size="7.5" textLength="110.6" lengthAdjust="spacingAndGlyphs">* compared with “db/db Control”</text>
<text class="o" x="598" y="1177.3" font-size="7.5" textLength="106" lengthAdjust="spacingAndGlyphs"># compared with “db/db + Met”</text>

<text class="m" x="422" y="1208" font-size="17" fill="#000">(C)</text>
</svg>
</body></html>
